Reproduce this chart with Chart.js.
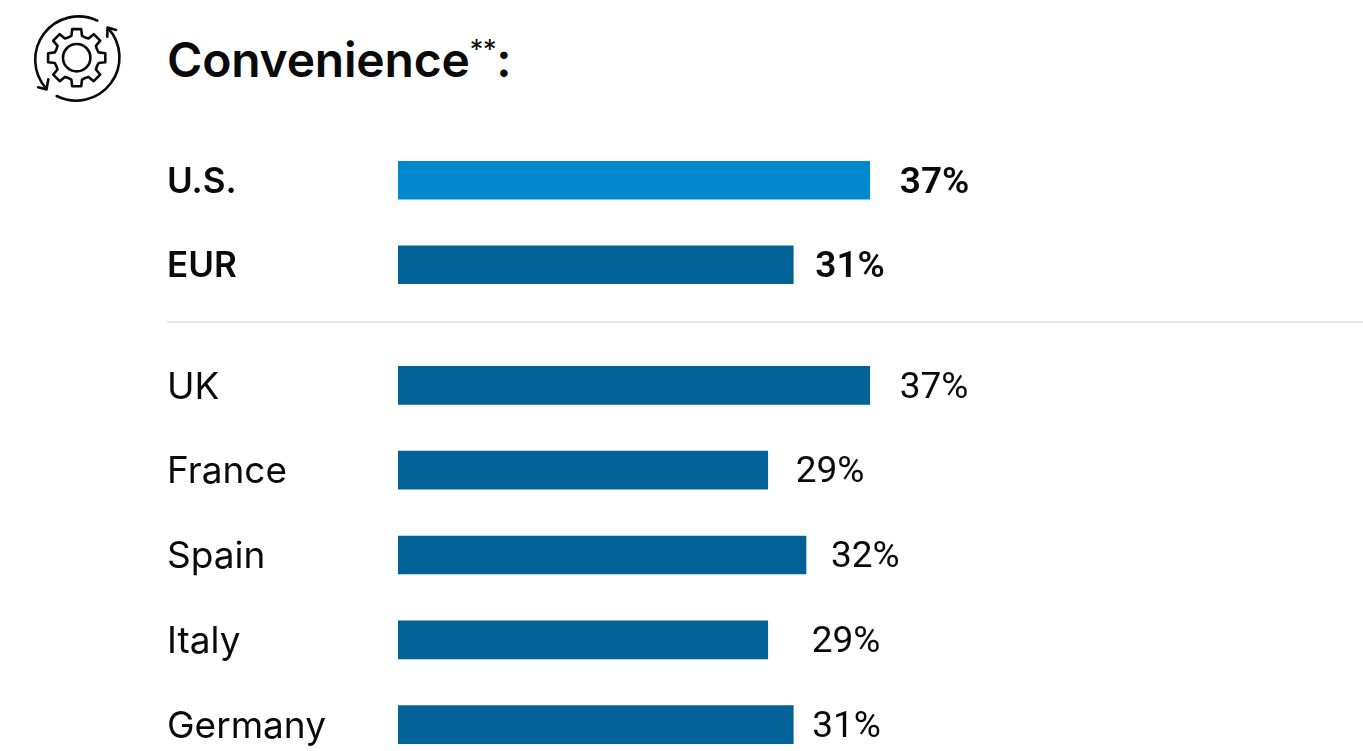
<!DOCTYPE html>
<html>
<head>
<meta charset="utf-8">
<title>Convenience</title>
<script src="https://cdn.jsdelivr.net/npm/chart.js@4.4.1/dist/chart.umd.min.js"></script>
<style>
  html, body { margin: 0; padding: 0; background: #fff; overflow: hidden; width: 1363px; height: 751px; }
  body { position: relative; font-family: Inter, "Noto Sans", sans-serif; color: #0a0a0a; }
  #icon { position: absolute; left: 20px; top: 0; }
  h1 { position: absolute; left: 167px; top: 30px; margin: 0; font-size: 48px; line-height: 60px; font-weight: 600; letter-spacing: -0.2px; white-space: nowrap; }
  h1 sup { font-size: 27px; line-height: 0; font-weight: 400; position: relative; top: -1px; vertical-align: super; }
  .rule { position: absolute; left: 167px; right: 0; top: 321px; height: 2px; background: #e9e9e9; }
  canvas { position: absolute; left: 167px; }
  #summary { top: 138px; }
  #countries { top: 343px; }
</style>
</head>
<body>
<svg id="icon" width="120" height="110" viewBox="0 0 120 110" fill="none" stroke="#0a0a0a" stroke-width="2.6" stroke-linejoin="round" stroke-linecap="round">
  <path d="M77.3 20.7 A43.3 43.3 0 0 0 26 88.3"/>
  <path d="M18.3 87.3 L26.5 89.5 L28.3 79.3"/>
  <path d="M36.7 96 A43.3 43.3 0 0 0 88.3 28.3"/>
  <path d="M96 30 L87.5 27.5 L87.3 36.7"/>
  <circle cx="56.7" cy="57.7" r="13.7"/>
  <path id="gear"/>
</svg>
<h1>Convenience<sup>**</sup>:</h1>
<div class="rule"></div>
<canvas id="summary" width="996" height="169"></canvas>
<canvas id="countries" width="996" height="424"></canvas>

<script>
const summaryLabels = ['U.S.', 'EUR'];
const summaryValues = [37, 31];
const countryLabels = ['UK', 'France', 'Spain', 'Italy', 'Germany'];
const countryValues = [37, 29, 32, 29, 31];

// gear outline: eight teeth around the hub
(function () {
  const cx = 56.7, cy = 57.7, teeth = 8, pts = [];
  for (let i = 0; i < teeth; i++) {
    const a = (i / teeth) * Math.PI * 2 - Math.PI / 2;
    const step = Math.PI * 2 / teeth;
    [[-0.5, 22], [-0.3, 22.5], [-0.2, 29], [0.2, 29], [0.3, 22.5], [0.5, 22]].forEach(function (p) {
      const t = a + p[0] * step;
      pts.push((cx + p[1] * Math.cos(t)).toFixed(1) + ' ' + (cy + p[1] * Math.sin(t)).toFixed(1));
    });
  }
  document.getElementById('gear').setAttribute('d', 'M' + pts.join(' L') + ' Z');
})();

// percentage text to the right of each bar
const valueLabels = {
  id: 'valueLabels',
  afterDatasetsDraw: function (chart, args, opts) {
    const ctx = chart.ctx;
    const values = chart.data.datasets[0].data;
    ctx.save();
    ctx.font = opts.font;
    ctx.fillStyle = '#0a0a0a';
    ctx.textAlign = 'left';
    ctx.textBaseline = 'middle';
    chart.getDatasetMeta(0).data.forEach(function (bar, i) {
      ctx.fillText(values[i] + '%', bar.x + opts.gaps[i], bar.y + 3);
    });
    ctx.restore();
  }
};

function drawBars(id, labels, values, colors, tickFont, valueFont, gaps) {
  return new Chart(document.getElementById(id), {
    type: 'bar',
    data: {
      labels: labels,
      datasets: [{ data: values, backgroundColor: colors, barThickness: 38, borderWidth: 0 }]
    },
    options: {
      indexAxis: 'y',
      responsive: false,
      animation: false,
      layout: { padding: 0 },
      plugins: {
        legend: { display: false },
        tooltip: { enabled: false },
        valueLabels: { font: valueFont, gaps: gaps }
      },
      scales: {
        x: { display: false, min: 0, max: 60 },
        y: {
          border: { display: false },
          grid: { display: false, drawTicks: false },
          afterFit: function (scale) {
            // rows fill the canvas edge to edge, no room kept for label overhang
            scale.width = 231;
            scale.paddingTop = 0;
            scale.paddingBottom = 0;
          },
          ticks: { crossAlign: 'far', padding: 0, labelOffset: 2, color: '#0a0a0a', font: tickFont }
        }
      }
    },
    plugins: [valueLabels]
  });
}

drawBars('summary', summaryLabels, summaryValues, ['#0088d1', '#006296'],
  { family: 'Inter', size: 35, weight: '600' }, '600 37px Roboto', [30, 22]);

drawBars('countries', countryLabels, countryValues, '#006296',
  { family: 'Inter', size: 37, weight: '400' }, '400 37px Roboto', [30, 28, 25, 44, 19]);
</script>
</body>
</html>
